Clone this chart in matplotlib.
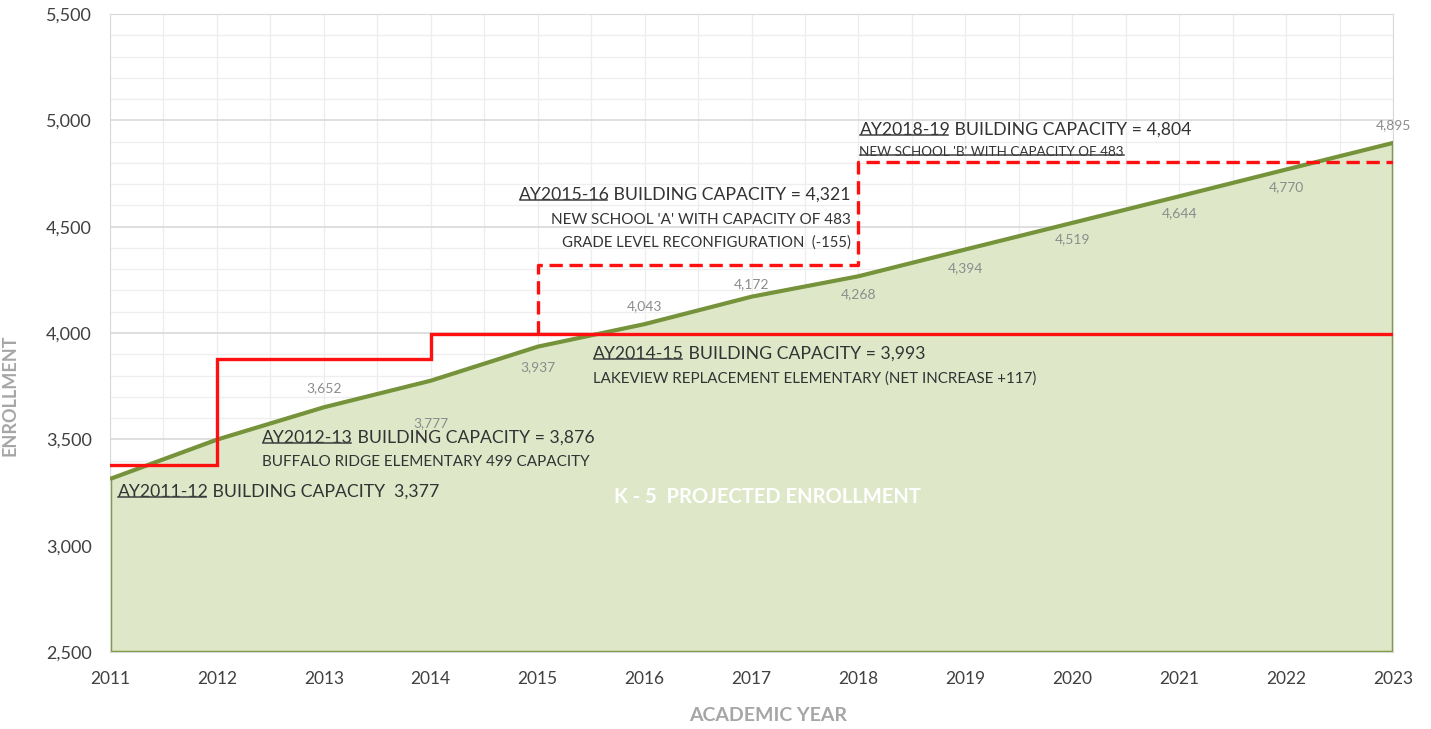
import matplotlib
matplotlib.use("Agg")
import matplotlib.pyplot as plt
from matplotlib.lines import Line2D
import numpy as np

# enrollment projection (K-5)
years = [2011, 2012, 2013, 2014, 2015, 2016, 2017, 2018, 2019, 2020, 2021, 2022, 2023]
enrollment = [3315, 3500, 3652, 3777, 3937, 4043, 4172, 4268, 4394, 4519, 4644, 4770, 4895]
# which points get a value label, and the label offset in pixels
label_years = [2013, 2014, 2015, 2016, 2017, 2018, 2019, 2020, 2021, 2022, 2023]
label_dy = [19, -43, -21, 18, 12, -18, -19, -17, -17, -18, 18]

# building capacity steps (solid = existing/funded)
cap_x = [2011, 2012, 2012, 2014, 2014, 2023]
cap_y = [3377, 3377, 3876, 3876, 3993, 3993]
# planned capacity (dashed)
plan_x = [2015, 2015, 2018, 2018, 2023]
plan_y = [3993, 4321, 4321, 4804, 4804]

plt.rcParams['font.family'] = ['Lato', 'DejaVu Sans']

fig = plt.figure(figsize=(14.31, 7.29), dpi=100)
ax = fig.add_axes([110 / 1431, 77 / 729, 1283 / 1431, 638 / 729])
ax.set_xlim(2011, 2023)
ax.set_ylim(2500, 5500)

# grid
ax.set_xticks(years)
ax.set_xticks(np.arange(2011.5, 2023, 1), minor=True)
ax.set_yticks(np.arange(2500, 5501, 500))
ax.set_yticks(np.arange(2500, 5501, 100), minor=True)
ax.grid(which='major', axis='y', color='#D9D9D9', linewidth=1.2)
ax.grid(which='minor', axis='y', color='#EEEEEE', linewidth=0.9)
ax.grid(which='both', axis='x', color='#EDEDED', linewidth=0.9)
ax.set_axisbelow(True)
ax.tick_params(which='both', length=0)
ax.tick_params(axis='y', pad=13, labelsize=13, labelcolor='#404040')
ax.tick_params(axis='x', pad=14, labelsize=12.5, labelcolor='#404040')
ax.set_yticklabels([f"{v:,}" for v in np.arange(2500, 5501, 500)])
for s in ax.spines.values():
    s.set_color('#D9D9D9')

# enrollment area
ax.fill_between(years, enrollment, 2500, facecolor='#DEE8C9', edgecolor='#7A9A3C',
                linewidth=2.5, zorder=2)
ax.plot(years, enrollment, color='#76933C', linewidth=2.6, zorder=3)

# capacity lines
ax.plot(cap_x, cap_y, color='#FF1010', linewidth=2.4, zorder=4, solid_joinstyle='miter')
ax.plot(plan_x, plan_y, color='#FF1010', linewidth=2.4, zorder=4, dashes=(4, 2))

# value labels
for yr, dy in zip(label_years, label_dy):
    v = enrollment[years.index(yr)]
    ax.annotate(f"{v:,}", (yr, v), xytext=(0, dy), textcoords='offset pixels',
                ha='center', va='center', fontsize=10, color='#8C8C8C', zorder=5)

renderer = fig.canvas.get_renderer()
to_fig = fig.transFigure.inverted()


def underline(t, trim=0):
    bb = t.get_window_extent(renderer)
    p0 = to_fig.transform((bb.x0 + 1, bb.y0 + 3))
    p1 = to_fig.transform((bb.x1 - trim, bb.y0 + 3))
    fig.add_artist(Line2D([p0[0], p1[0]], [p0[1], p1[1]], color='#404040', linewidth=1.1))


def cap_label(x, y, head, tail, size=12.7, ha='left', color='#333333'):
    kw = dict(textcoords='offset pixels', va='center', fontsize=size, color=color, zorder=6)
    probe1 = ax.annotate(head, (x, y), xytext=(0, 0), **kw)
    w1 = probe1.get_window_extent(renderer).width
    probe2 = ax.annotate(tail, (x, y), xytext=(0, 0), **kw)
    w2 = probe2.get_window_extent(renderer).width
    probe1.remove()
    probe2.remove()
    start = 0 if ha == 'left' else -(w1 + w2)
    t1 = ax.annotate(head, (x, y), xytext=(start, 0), ha='left', **kw)
    ax.annotate(tail, (x, y), xytext=(start + w1, 0), ha='left', **kw)
    underline(t1, trim=2)


def note(x, y, s, size=10.5, ha='left', ul=False):
    t = ax.annotate(s, (x, y), xytext=(0, 0), textcoords='offset pixels', ha=ha,
                    va='center', fontsize=size, color='#333333', zorder=6)
    if ul:
        underline(t)


cap_label(2011.07, 3253, "AY2011-12", " BUILDING CAPACITY  3,377")
cap_label(2012.42, 3507, "AY2012-13", " BUILDING CAPACITY = 3,876")
note(2012.42, 3394, "BUFFALO RIDGE ELEMENTARY 499 CAPACITY", size=11)
cap_label(2015.52, 3901, "AY2014-15", " BUILDING CAPACITY = 3,993")
note(2015.52, 3784, "LAKEVIEW REPLACEMENT ELEMENTARY (NET INCREASE +117)", size=10.9)
cap_label(2017.93, 4649, "AY2015-16", " BUILDING CAPACITY = 4,321", ha='right')
note(2017.93, 4531, "NEW SCHOOL 'A' WITH CAPACITY OF 483", size=11, ha='right')
note(2017.93, 4423, "GRADE LEVEL RECONFIGURATION  (-155)", size=10.7, ha='right')
cap_label(2018.01, 4955, "AY2018-19", " BUILDING CAPACITY = 4,804")
note(2018.01, 4851, "NEW SCHOOL 'B' WITH CAPACITY OF 483", size=9.7, ul=True)

ax.text(2017.15, 3229, "K - 5  PROJECTED ENROLLMENT", ha='center', va='center',
        fontsize=14.5, fontweight='bold', color='white', zorder=6)

ax.set_ylabel("ENROLLMENT", fontsize=13, fontweight='bold', color='#A6A6A6')
ax.set_xlabel("ACADEMIC YEAR", fontsize=14, fontweight='bold', color='#A6A6A6')
ax.yaxis.set_label_coords(-0.0717, 0.403)
ax.xaxis.set_label_coords(0.513, -0.086)

fig.savefig("out.png", dpi=100)
